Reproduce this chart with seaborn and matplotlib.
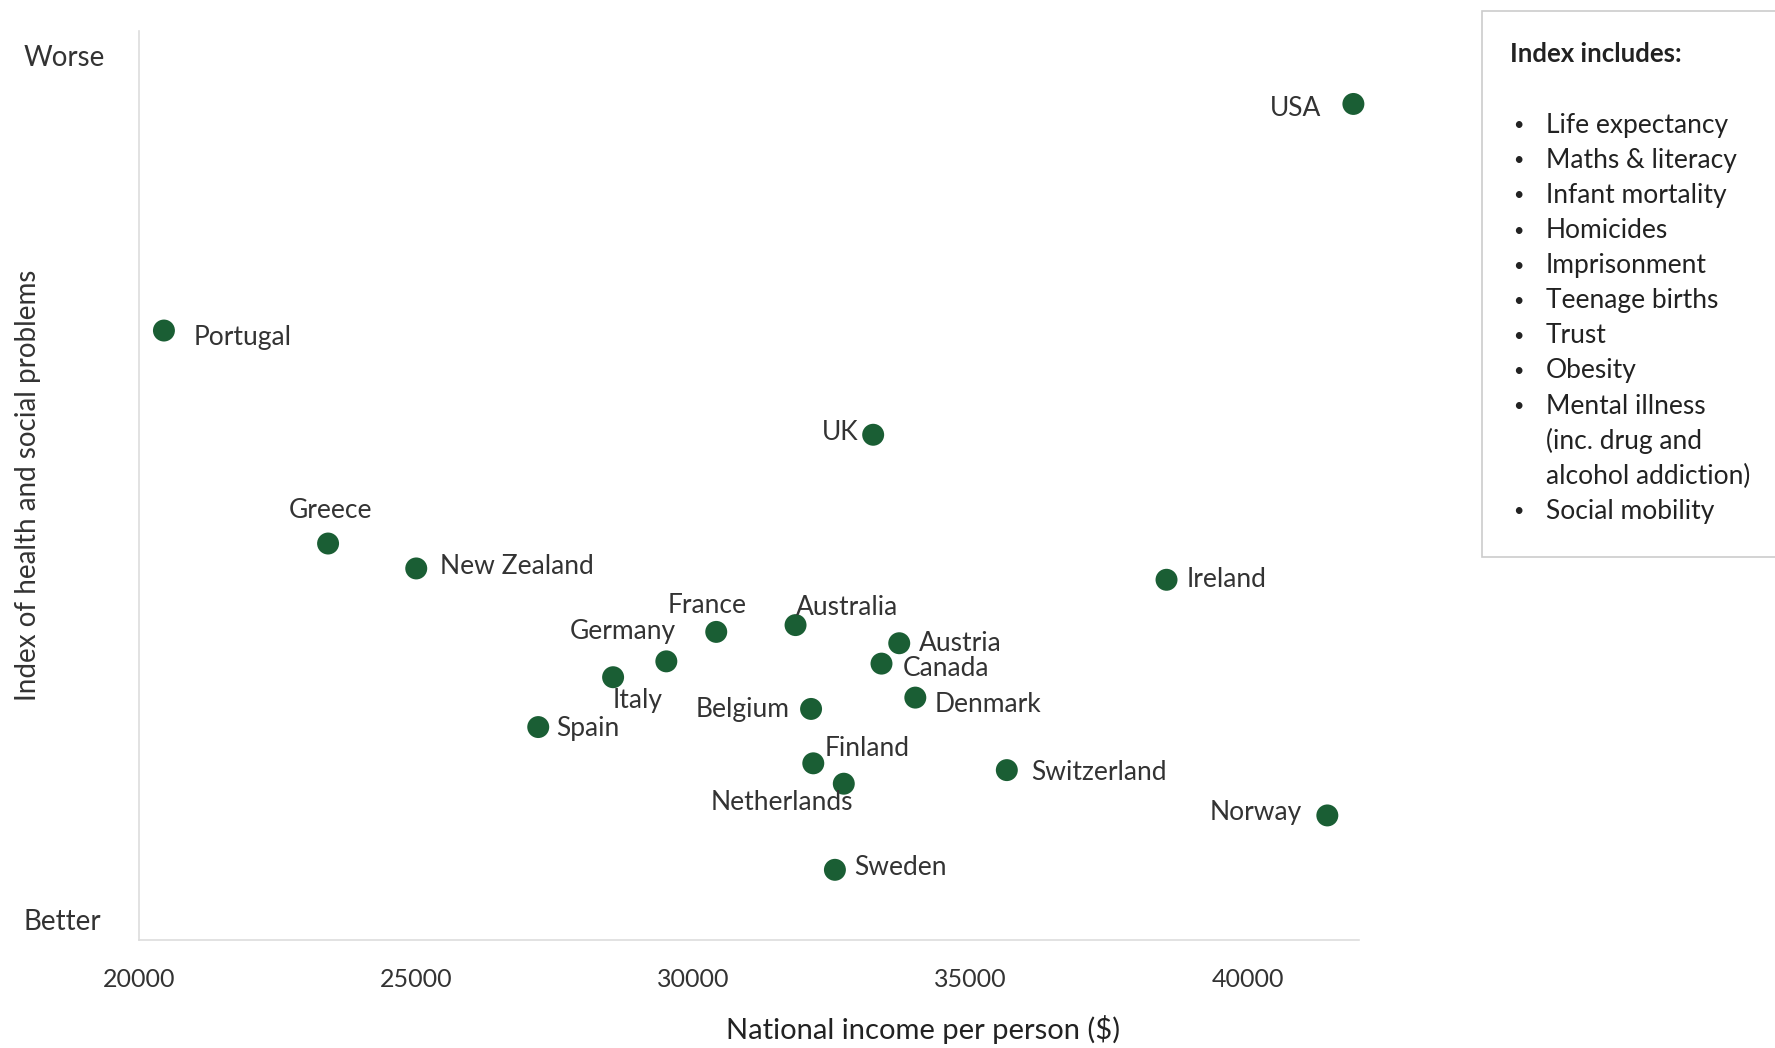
import pandas as pd
import matplotlib.pyplot as plt
import seaborn as sns
from matplotlib.patches import Rectangle

# data
countries = ['USA', 'Portugal', 'UK', 'Greece', 'New Zealand', 'Ireland', 'France',
             'Australia', 'Germany', 'Italy', 'Austria', 'Canada', 'Denmark', 'Belgium',
             'Spain', 'Finland', 'Netherlands', 'Switzerland', 'Norway', 'Sweden']
income = [41900, 20450, 33240, 23410, 25000, 38530, 30410,
          31840, 29510, 28550, 33710, 33390, 34000, 32120,
          27200, 32160, 32710, 35650, 41430, 32550]
index_score = [2.54, 1.54, 1.08, 0.60, 0.49, 0.44, 0.21,
               0.24, 0.08, 0.01, 0.16, 0.07, -0.08, -0.13,
               -0.21, -0.37, -0.46, -0.40, -0.60, -0.84]
index_items = ['Life expectancy', 'Maths & literacy', 'Infant mortality', 'Homicides',
               'Imprisonment', 'Teenage births', 'Trust', 'Obesity', 'Mental illness',
               '(inc. drug and', 'alcohol addiction)', 'Social mobility']

df = pd.DataFrame({'country': countries, 'income': income, 'index': index_score})

# label placement (offset in pixels, horizontal alignment)
label_pos = {
    'USA': (-32, -5, 'right'), 'Portugal': (30, -7, 'left'), 'UK': (-15, 2, 'right'),
    'Greece': (2, 33, 'center'), 'New Zealand': (24, 2, 'left'), 'Ireland': (20, 0, 'left'),
    'France': (-9, 26, 'center'), 'Australia': (0, 18, 'left'), 'Germany': (10, 30, 'right'),
    'Italy': (0, -23, 'left'), 'Austria': (20, 0, 'left'), 'Canada': (21, -5, 'left'),
    'Denmark': (19, -7, 'left'), 'Belgium': (-21, -1, 'right'), 'Spain': (18, -1, 'left'),
    'Finland': (11, 15, 'left'), 'Netherlands': (-62, -19, 'center'),
    'Switzerland': (24, -2, 'left'), 'Norway': (-25, 3, 'right'), 'Sweden': (19, 2, 'left'),
}

GREEN = '#1a5e34'
TXT = '#333333'

sns.set_style('white')
plt.rcParams['font.family'] = ['Lato', 'DejaVu Sans']

fig = plt.figure(figsize=(17.75, 10.48), dpi=100)
ax = fig.add_axes([0.0783, 0.103, 0.6873, 0.867])

sns.scatterplot(data=df, x='income', y='index', color=GREEN, s=250,
                edgecolor='none', ax=ax, zorder=3, clip_on=False)

for _, r in df.iterrows():
    dx, dy, ha = label_pos[r['country']]
    ax.annotate(r['country'], (r['income'], r['index']), xytext=(dx, dy),
                textcoords='offset pixels', ha=ha, va='center',
                fontsize=19, color=TXT)

ax.set_xlim(20000, 42000)
ax.set_ylim(-1.15, 2.86)
ax.set_xticks([20000, 25000, 30000, 35000, 40000])
ax.set_yticks([-1.06, 2.755])
ax.set_yticklabels(['Better', 'Worse'], ha='left')
ax.tick_params(axis='y', length=0, pad=83, labelsize=20, labelcolor=TXT)
ax.tick_params(axis='x', length=6, width=1, color='#dddddd', pad=14,
               labelsize=18, labelcolor=TXT)

for s in ['top', 'right']:
    ax.spines[s].set_visible(False)
for s in ['left', 'bottom']:
    ax.spines[s].set_color('#dddddd')
    ax.spines[s].set_linewidth(1.2)

ax.set_xlabel('National income per person ($)', fontsize=21, color='#222222', va='top')
ax.xaxis.set_label_coords(0.643, -0.082)
ax.set_ylabel('Index of health and social problems', fontsize=20, color=TXT)
ax.yaxis.set_label_coords(-0.08, 0.5)

# side box listing what the index includes
fig.patches.append(Rectangle((0.835, 0.4685), 0.2, 0.521, transform=fig.transFigure,
                             facecolor='white', edgecolor='#cccccc', linewidth=1.2))
fig.text(0.8505, 0.948, 'Index includes:', fontsize=18.5, fontweight='bold',
         color='#222222', va='center')
y0 = 0.8805
step = 0.0335
for i, item in enumerate(index_items):
    y = y0 - i * step
    if not item.startswith('(') and not item.startswith('alcohol'):
        fig.text(0.8525, y, '•', fontsize=13, color='#222222', va='center')
    fig.text(0.871, y, item, fontsize=19, color='#222222', va='center')

fig.savefig('out.png', dpi=100)
